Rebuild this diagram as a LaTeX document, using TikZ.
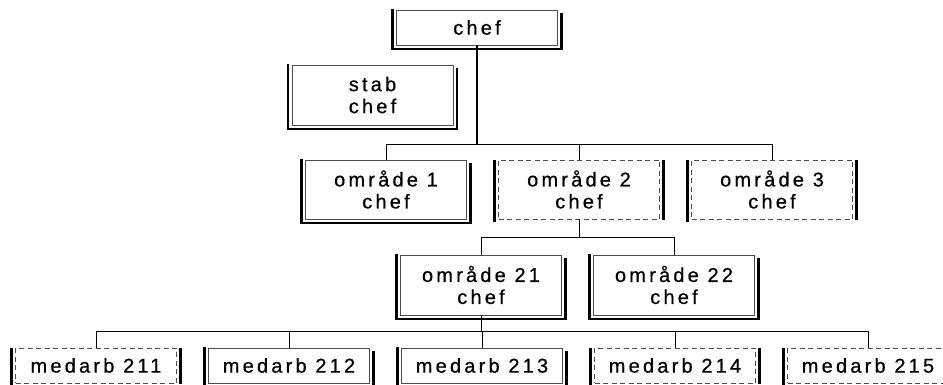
\documentclass[tikz,border=0pt]{standalone}
\usepackage{fontspec}
\newfontfamily\boxfont[LetterSpace=16,FakeBold=0.6]{Liberation Sans}
\usetikzlibrary{calc}
\begin{document}
\begin{tikzpicture}[x=1pt,y=-1pt,
  orgbox/.style={draw=black!70, line width=0.9pt, inner sep=0pt, align=center,
     minimum width=161pt, font=\boxfont\fontsize{20}{22}\selectfont},
  dashbox/.style={orgbox, dash pattern=on 5pt off 3.5pt},
  thick line/.style={line width=2.8pt, black},
  conn/.style={line width=0.9pt, black}]
\useasboundingbox (0,0) rectangle (943,385);
% top
\node[orgbox, minimum height=35pt] (chef) at (477,27.5) {chef};
\node[orgbox, minimum height=60pt] (stab) at (372.5,95) {stab\\chef};
% level 1
\node[orgbox, minimum height=59pt] (o1) at (386,189.5) {område 1\\chef};
\node[dashbox, minimum height=59pt] (o2) at (579,189.5) {område 2\\chef};
\node[dashbox, minimum height=59pt] (o3) at (772,189.5) {område 3\\chef};
% level 2
\node[orgbox, minimum height=60pt] (o21) at (481,285) {område 21\\chef};
\node[orgbox, minimum height=60pt] (o22) at (674,285) {område 22\\chef};
% level 3
\node[dashbox, minimum height=35pt] (m211) at (96,365.5) {medarb 211};
\node[orgbox, minimum height=35pt] (m212) at (289,365.5) {medarb 212};
\node[orgbox, minimum height=35pt] (m213) at (482,365.5) {medarb 213};
\node[dashbox, minimum height=35pt] (m214) at (675,365.5) {medarb 214};
\node[dashbox, minimum height=35pt] (m215) at (868,365.5) {medarb 215};
% heavy frame edges of solid boxes
\foreach \n in {chef,stab,o1,o21,o22,m212,m213}{
  \draw[thick line] ($(\n.north west)+(-3.5,-0.5)$) -- ($(\n.south west)+(-3.5,4.8)$);
  \draw[thick line] ($(\n.north east)+(3.5,3)$) -- ($(\n.south east)+(3.5,4.8)$);
  \draw[thick line] ($(\n.south west)+(-4.8,3.5)$) -- ($(\n.south east)+(4.8,3.5)$);
}
% heavy side edges of dashed boxes
\foreach \n in {o2,o3,m211,m214,m215}{
  \draw[thick line] ($(\n.north west)+(-3.5,0.5)$) -- ($(\n.south west)+(-3.5,2.5)$);
  \draw[thick line] ($(\n.north east)+(3.5,0.5)$) -- ($(\n.south east)+(3.5,1)$);
}
% connectors level 1
\path (o1.north) ++(0,-15) coordinate (b1);
\draw[conn, line width=1.6pt] (chef.south) -- (chef.south |- b1);
\draw[conn] (o1.north) -- (b1) -| (o3.north);
\draw[conn] (o2.north) -- (o2.north |- b1);
% connectors level 2
\path (o21.north) ++(0,-17) coordinate (b2);
\draw[conn] (o2.south) -- (o2.south |- b2);
\draw[conn] (o21.north) -- (b2) -| (o22.north);
% connectors level 3
\path (m211.north) ++(0,-16) coordinate (b3);
\draw[conn] (o21.south) -- (o21.south |- b3);
\draw[conn, line width=0.7pt] (m211.north) -- (b3) -| (m215.north);
\foreach \n in {m212,m213,m214}{
  \draw[conn, line width=0.7pt] (\n.north) -- (\n.north |- b3);
}
\end{tikzpicture}
\end{document}
